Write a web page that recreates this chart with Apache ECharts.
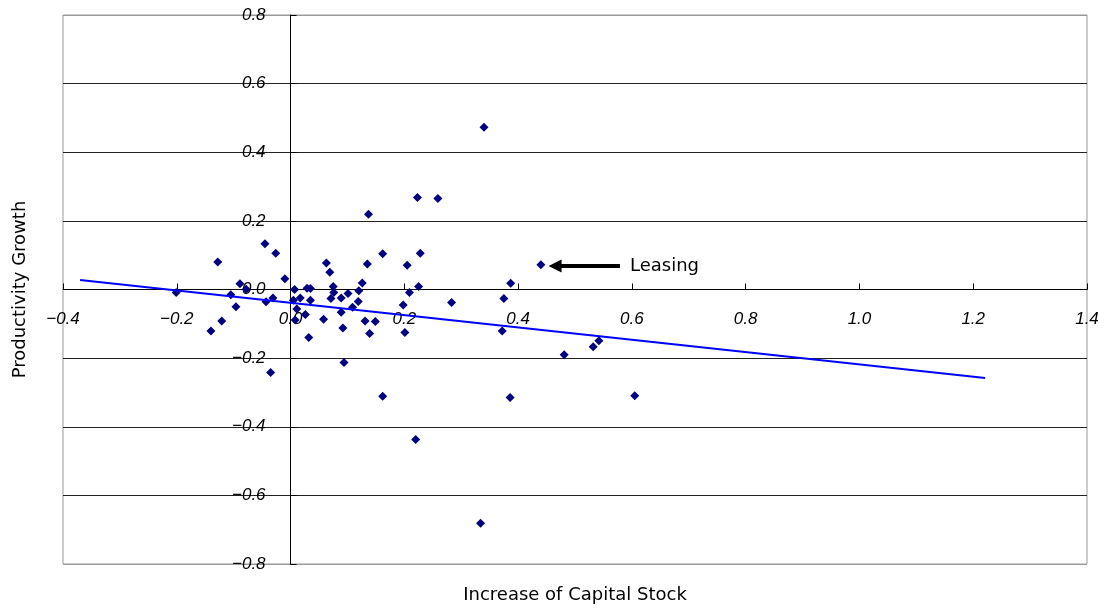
<!DOCTYPE html>
<html>
<head>
<meta charset="utf-8">
<script src="https://cdn.jsdelivr.net/npm/echarts@6/dist/echarts.min.js"></script>
<style>
html,body{margin:0;padding:0;background:#fff;}
#chart{width:1104px;height:609px;}
</style>
</head>
<body>
<div id="chart"></div>
<script>
// Increase of capital stock (x) and productivity growth (y)
const capitalIncrease = [
  -0.201,-0.140,-0.128,-0.121,-0.105,-0.096,-0.089,-0.078,-0.045,-0.043,
  -0.031,-0.035,-0.026,-0.010,0.007,0.005,0.017,0.011,0.008,0.026,
  0.029,0.035,0.035,0.032,0.058,0.063,0.069,0.075,0.076,0.071,
  0.089,0.089,0.092,0.094,0.101,0.120,0.126,0.119,0.109,0.131,
  0.149,0.139,0.135,0.137,0.162,0.162,0.198,0.201,0.205,0.209,
  0.225,0.228,0.223,0.259,0.220,0.283,0.340,0.334,0.372,0.375,
  0.387,0.386,0.440,0.481,0.532,0.542,0.605
];
const productivityGrowth = [
  -0.009,-0.121,0.080,-0.092,-0.015,-0.050,0.017,0.001,0.133,-0.036,
  -0.025,-0.242,0.106,0.031,0.000,-0.031,-0.025,-0.057,-0.089,-0.073,
  0.004,0.003,-0.031,-0.140,-0.087,0.077,0.050,0.009,-0.009,-0.026,
  -0.025,-0.066,-0.112,-0.213,-0.012,-0.004,0.019,-0.035,-0.052,-0.092,
  -0.093,-0.128,0.074,0.219,0.104,-0.311,-0.045,-0.125,0.071,-0.009,
  0.009,0.106,0.268,0.265,-0.437,-0.038,0.473,-0.681,-0.121,-0.026,
  0.018,-0.315,0.072,-0.190,-0.167,-0.149,-0.310
];
// Trend line end points
const trendX = [-0.370, 1.221];
const trendY = [0.028, -0.258];
// Annotation
const annotationText = 'Leasing';
const annotationFrom = [0.579, 0.0685];
const annotationTo = [0.465, 0.0685];

const xTicks = {min: -0.4, max: 1.4, interval: 0.2};
const yTicks = {min: -0.8, max: 0.8, interval: 0.2};

const points = capitalIncrease.map((x, i) => [x, productivityGrowth[i]]);
const trend = trendX.map((x, i) => [x, trendY[i]]);
const fmt = v => '{t|' + v.toFixed(1).replace('-', '\u2212') + '}';

const W = 1104, H = 609;
const G = {left: 63, right: 17, top: 15, bottom: 45};
const plotW = W - G.left - G.right, plotH = H - G.top - G.bottom;
// offsets so that the axes cross at zero
const yAxisOffset = -plotW * (0 - xTicks.min) / (xTicks.max - xTicks.min);
const xAxisOffset = -plotH * (0 - yTicks.min) / (yTicks.max - yTicks.min);

const tickFont = {fontFamily: '"Liberation Sans", Arial, sans-serif', fontStyle: 'italic', fontSize: 17, color: '#000'};
const nameFont = '18px "DejaVu Sans"';

const chart = echarts.init(document.getElementById('chart'));
chart.setOption({
  backgroundColor: '#ffffff',
  animation: false,
  grid: Object.assign({show: true, borderColor: '#999', borderWidth: 1, backgroundColor: 'transparent'}, G),
  xAxis: {
    type: 'value', min: xTicks.min, max: xTicks.max, interval: xTicks.interval,
    position: 'bottom', offset: xAxisOffset,
    axisLine: {onZero: false, lineStyle: {color: '#000', width: 1}},
    axisTick: {show: true, inside: true, length: 6, lineStyle: {color: '#000'}},
    axisLabel: Object.assign({formatter: fmt, margin: 21, showMinLabel: true, showMaxLabel: true, rich: {t: tickFont}}, tickFont),
    splitLine: {show: false}
  },
  yAxis: {
    type: 'value', min: yTicks.min, max: yTicks.max, interval: yTicks.interval,
    position: 'left', offset: yAxisOffset,
    axisLine: {onZero: false, lineStyle: {color: '#000', width: 1}},
    axisTick: {show: true, inside: true, length: 6, lineStyle: {color: '#000'}},
    axisLabel: Object.assign({formatter: fmt, margin: 25, showMinLabel: true, showMaxLabel: true, rich: {t: tickFont}}, tickFont),
    splitLine: {show: true, lineStyle: {color: ['#999','#222','#222','#222','#222','#222','#222','#222','#999'], width: 1}}
  },
  graphic: [
    {type: 'text', x: G.left + plotW / 2, y: 595, style: {text: 'Increase of Capital Stock', font: nameFont, fill: '#000', align: 'center', verticalAlign: 'middle'}},
    {type: 'text', x: 20, y: G.top + plotH / 2, rotation: Math.PI / 2, style: {text: 'Productivity Growth', font: nameFont, fill: '#000', align: 'center', verticalAlign: 'middle'}}
  ],
  series: [
    {
      type: 'scatter', data: points, symbol: 'diamond', symbolSize: 9,
      itemStyle: {color: '#000080', opacity: 1}, z: 3,
      markLine: {
        silent: true, symbol: ['none', 'triangle'], symbolSize: [13, 13],
        lineStyle: {color: '#000', width: 4, type: 'solid', opacity: 1},
        label: {show: true, position: 'start', formatter: annotationText, color: '#000', fontSize: 18, fontFamily: 'DejaVu Sans', distance: 10},
        data: [[{coord: annotationFrom}, {coord: annotationTo}]]
      }
    },
    {
      type: 'line', data: trend, showSymbol: false, symbol: 'none',
      lineStyle: {color: '#0000ff', width: 2}, z: 4
    }
  ]
});
</script>
</body>
</html>
